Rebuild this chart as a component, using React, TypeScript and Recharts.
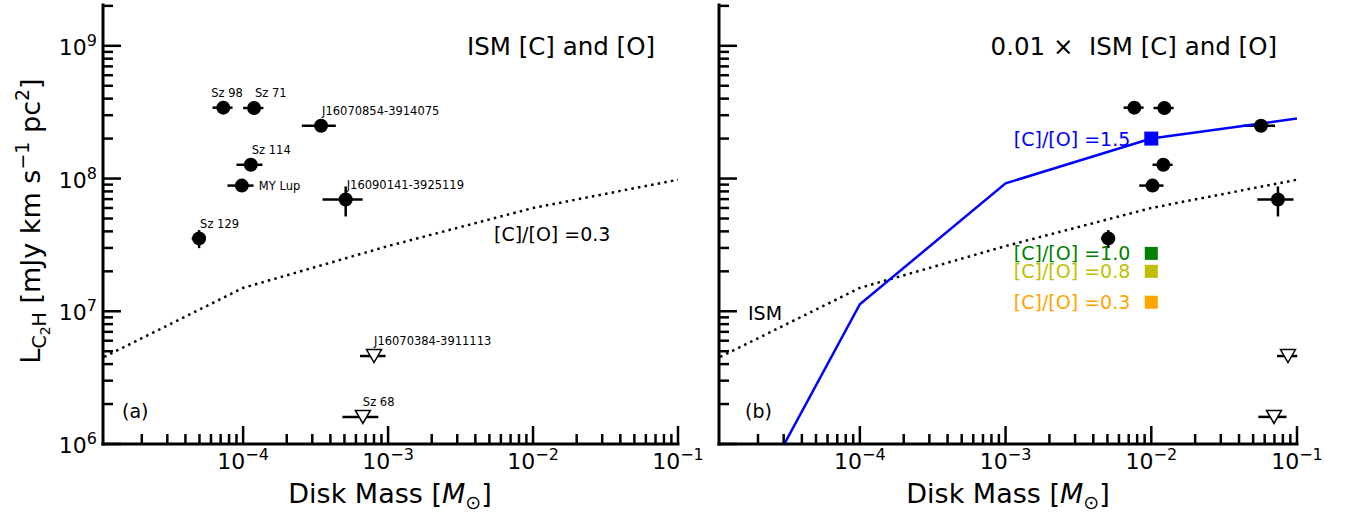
import React from 'react'
import { ComposedChart, Scatter, XAxis, YAxis, ErrorBar } from 'recharts'

const FONT = '"DejaVu Sans", sans-serif'

// detections, panel (a) disk masses
const names = ['Sz 98', 'Sz 71', 'J16070854-3914075', 'Sz 114', 'MY Lup', 'J16090141-3925119', 'Sz 129']
const massA = [7.3e-5, 1.19e-4, 3.45e-4, 1.13e-4, 9.8e-5, 5.1e-4, 4.97e-5]
const massErrA = [1.15e-5, 1.9e-5, 9.1e-5, 2.3e-5, 2.0e-5, 1.57e-4, 5.5e-6]
// detections, panel (b) disk masses
const massB = [7.65e-3, 1.23e-2, 5.66e-2, 1.21e-2, 1.02e-2, 7.4e-2, 5.07e-3]
const massErrB = [1.2e-3, 1.95e-3, 1.41e-2, 1.9e-3, 1.93e-3, 2.06e-2, 5.6e-4]
const lum = [3.42e8, 3.4e8, 2.5e8, 1.27e8, 8.85e7, 6.95e7, 3.54e7]
const lumErr = [0, 0, 0, 0, 0, 1.77e7, 5.5e6]

// upper limits
const ulNames = ['J16070384-3911113', 'Sz 68']
const ulMassA = [8.0e-4, 6.7e-4]
const ulMassErrA = [1.6e-4, 1.86e-4]
const ulMassB = [8.67e-2, 6.95e-2]
const ulMassErrB = [1.37e-2, 1.52e-2]
const ulLum = [4.6e6, 1.6e6]

// models
const modelMass = [1e-5, 1e-4, 1e-3, 1e-2, 1e-1]
const ismLum = [4.3e6, 1.5e7, 3.1e7, 6.0e7, 9.8e7]
const co15Lum = [1.05e5, 1.13e7, 9.2e7, 2.0e8, 2.83e8]

// C/O markers at 1e-2
const ratioLabels = ['[C]/[O] =1.5', '[C]/[O] =1.0', '[C]/[O] =0.8', '[C]/[O] =0.3']
const ratioLum = [2.0e8, 2.73e7, 2.0e7, 1.17e7]
const ratioColors = ['#0000ff', '#008000', '#bfbf00', '#ffa500']

const xDomain: [number, number] = [1.08e-5, 0.1]
const yDomain: [number, number] = [1e6, 2.03e9]
const mant = [1, 2, 3, 4, 5, 6, 7, 8, 9]
const xTicks = [1e-5, 1e-4, 1e-3, 1e-2, 1e-1].flatMap(d => mant.map(m => m * d)).filter(v => v >= xDomain[0] && v <= xDomain[1] * 1.0001)
const yTicks = [1e6, 1e7, 1e8, 1e9].flatMap(d => mant.map(m => m * d)).filter(v => v >= yDomain[0] * 0.9999 && v <= yDomain[1])

const MAJOR = 18
const MINOR = 10

const isMajor = (v: number) => Math.abs(Math.log10(v) - Math.round(Math.log10(v))) < 1e-6
const expText = (v: number) => {
  const e = Math.round(Math.log10(v))
  return e < 0 ? '\u2212' + -e : String(e)
}

function makeTick(side: string, labels: boolean) {
  return (props: any) => {
    const { x, y, payload } = props
    const v = payload.value
    const major = isMajor(v)
    const len = major ? MAJOR : MINOR
    let x2 = x, y2 = y
    if (side === 'bottom') y2 = y - len
    if (side === 'top') y2 = y + len
    if (side === 'left') x2 = x + len
    if (side === 'right') x2 = x - len
    return (
      <g>
        <line x1={x} y1={y} x2={x2} y2={y2} stroke="#000" strokeWidth={2.5} />
        {labels && major && side === 'bottom' && (
          <text x={x} y={y + 25} textAnchor="middle" fontSize={22} fontFamily={FONT} fill="#000">
            10<tspan dy={-9} fontSize={16}>{expText(v)}</tspan>
          </text>
        )}
        {labels && major && side === 'left' && (
          <text x={x - 6} y={y + 9} textAnchor="end" fontSize={22} fontFamily={FONT} fill="#000">
            10<tspan dy={-9} fontSize={16}>{expText(v)}</tspan>
          </text>
        )}
      </g>
    )
  }
}

const axisLine = { stroke: '#000', strokeWidth: 3, strokeLinecap: 'square' as const }

function axes(yLabels: boolean, leftWidth: number) {
  return [
    <XAxis key="xb" xAxisId="b" type="number" dataKey="x" scale="log" domain={xDomain} allowDataOverflow
      ticks={xTicks} interval={0} height={71} tickSize={0} tickMargin={0} tickLine={false}
      axisLine={axisLine} tick={makeTick('bottom', true)} />,
    <XAxis key="xt" xAxisId="t" orientation="top" type="number" dataKey="x" scale="log" domain={xDomain} allowDataOverflow
      ticks={xTicks} interval={0} height={0} tickSize={0} tickMargin={0} tickLine={false}
      axisLine={axisLine} tick={makeTick('top', false)} />,
    <YAxis key="yl" yAxisId="l" type="number" dataKey="y" scale="log" domain={yDomain} allowDataOverflow
      ticks={yTicks} interval={0} width={leftWidth} tickSize={0} tickMargin={0} tickLine={false}
      axisLine={axisLine} tick={makeTick('left', yLabels)} />,
    <YAxis key="yr" yAxisId="r" orientation="right" type="number" dataKey="y" scale="log" domain={yDomain} allowDataOverflow
      ticks={yTicks} interval={0} width={0} tickSize={0} tickMargin={0} tickLine={false}
      axisLine={axisLine} tick={makeTick('right', false)} />,
  ]
}

const Dot = (withLabel: boolean) => (props: any) => {
  const { cx, cy, payload } = props
  let dx = 1
  let dy = -10.5
  if (payload.name === 'Sz 98') dx = -12
  if (payload.name === 'MY Lup') { dx = 17; dy = 4 }
  return (
    <g>
      <circle cx={cx} cy={cy} r={7} fill="#000" />
      {withLabel && (
        <text x={cx + dx} y={cy + dy} fontSize={11.5} fontFamily={FONT} fill="#000">{payload.name}</text>
      )}
    </g>
  )
}

const Tri = (withLabel: boolean) => (props: any) => {
  const { cx, cy, payload } = props
  return (
    <g>
      <polygon points={`${cx - 7.5},${cy - 6.5} ${cx + 7.5},${cy - 6.5} ${cx},${cy + 6.5}`} fill="#fff" stroke="#000" strokeWidth={1.5} />
      {withLabel && (
        <text x={cx} y={cy - 11} fontSize={11.5} fontFamily={FONT} fill="#000">{payload.name}</text>
      )}
    </g>
  )
}

const Square = (props: any) => {
  const { cx, cy, payload } = props
  const s = payload.big ? 14 : 13
  return (
    <g>
      <rect x={cx - s / 2} y={cy - s / 2} width={s} height={s} fill={payload.color} />
      <text x={cx - 21} y={cy + 7} textAnchor="end" fontSize={19} fontFamily={FONT} fill={payload.color}>{payload.label}</text>
    </g>
  )
}

const NoShape = () => <g />

const detA = names.map((name, i) => ({ name, x: massA[i], y: lum[i], xErr: massErrA[i], yErr: lumErr[i] }))
const detB = names.map((name, i) => ({ name, x: massB[i], y: lum[i], xErr: massErrB[i], yErr: lumErr[i] }))
const ulA = ulNames.map((name, i) => ({ name, x: ulMassA[i], y: ulLum[i], xErr: ulMassErrA[i] }))
const ulB = ulNames.map((name, i) => ({ name, x: ulMassB[i], y: ulLum[i], xErr: ulMassErrB[i] }))
const ism = modelMass.map((x, i) => ({ x, y: ismLum[i] }))
const co15 = modelMass.map((x, i) => ({ x, y: co15Lum[i] }))
const ratios = ratioLabels.map((label, i) => ({ x: 1e-2, y: ratioLum[i], label, color: ratioColors[i], big: i === 0 }))

const ebProps = { stroke: '#000', strokeWidth: 2.5, width: 0 }
const dotted = { stroke: '#000', strokeWidth: 2.5, strokeDasharray: '2.5 4.2' }

const massLabel = (
  <>
    Disk Mass [<tspan fontStyle="italic">M</tspan><tspan dy={6} fontSize={19}>{'\u2299'}</tspan><tspan dy={-6}>]</tspan>
  </>
)

export default function App() {
  return (
    <div style={{ position: 'absolute', left: 0, top: 0, width: 1347, height: 515, background: '#fff', fontFamily: FONT }}>
      <div style={{ position: 'absolute', left: 0, top: 0 }}>
        <ComposedChart width={715} height={515} margin={{ top: 5, right: 37, bottom: 0, left: 0 }}>
          {axes(true, 103)}
          <Scatter xAxisId="b" yAxisId="l" data={ism} line={dotted} lineType="joint" shape={NoShape} isAnimationActive={false} />
          <Scatter xAxisId="b" yAxisId="l" data={detA} shape={Dot(true)} isAnimationActive={false}>
            <ErrorBar dataKey="xErr" direction="x" {...ebProps} />
            <ErrorBar dataKey="yErr" direction="y" {...ebProps} />
          </Scatter>
          <Scatter xAxisId="b" yAxisId="l" data={ulA} shape={Tri(true)} isAnimationActive={false}>
            <ErrorBar dataKey="xErr" direction="x" {...ebProps} />
          </Scatter>
        </ComposedChart>
      </div>
      <div style={{ position: 'absolute', left: 700, top: 0 }}>
        <ComposedChart width={647} height={515} margin={{ top: 5, right: 50, bottom: 0, left: 0 }}>
          {axes(false, 19)}
          <Scatter xAxisId="b" yAxisId="l" data={ism} line={dotted} lineType="joint" shape={NoShape} isAnimationActive={false} />
          <Scatter xAxisId="b" yAxisId="l" data={co15} line={{ stroke: '#0000ff', strokeWidth: 2.5 }} lineType="joint" shape={NoShape} isAnimationActive={false} />
          <Scatter xAxisId="b" yAxisId="l" data={detB} shape={Dot(false)} isAnimationActive={false}>
            <ErrorBar dataKey="xErr" direction="x" {...ebProps} />
            <ErrorBar dataKey="yErr" direction="y" {...ebProps} />
          </Scatter>
          <Scatter xAxisId="b" yAxisId="l" data={ulB} shape={Tri(false)} isAnimationActive={false}>
            <ErrorBar dataKey="xErr" direction="x" {...ebProps} />
          </Scatter>
          <Scatter xAxisId="b" yAxisId="l" data={ratios} shape={Square} isAnimationActive={false} />
        </ComposedChart>
      </div>
      <svg width={1347} height={515} style={{ position: 'absolute', left: 0, top: 0, pointerEvents: 'none' }} fontFamily={FONT}>
        <text transform="translate(40,221) rotate(-90)" textAnchor="middle" fontSize={27} fill="#000">
          L<tspan dy={6} fontSize={19}>C</tspan><tspan dy={4} fontSize={14}>2</tspan><tspan dy={-4} fontSize={19}>H</tspan>
          <tspan dy={-6} fontSize={27}> [mJy km s</tspan><tspan dy={-11} fontSize={19}>{'\u22121'}</tspan>
          <tspan dy={11} fontSize={27}> pc</tspan><tspan dy={-11} fontSize={19}>2</tspan><tspan dy={11} fontSize={27}>]</tspan>
        </text>
        <text x={390} y={503} textAnchor="middle" fontSize={27} fill="#000">{massLabel}</text>
        <text x={1008} y={503} textAnchor="middle" fontSize={27} fill="#000">{massLabel}</text>
        <text x={655} y={55} textAnchor="end" fontSize={24.5} fill="#000">ISM [C] and [O]</text>
        <text x={1277} y={55} textAnchor="end" fontSize={24.5} fill="#000">{'0.01 \u00d7\u00a0 ISM [C] and [O]'}</text>
        <text x={494} y={241} fontSize={19} fill="#000">[C]/[O] =0.3</text>
        <text x={748} y={320} fontSize={19} fill="#000">ISM</text>
        <text x={122} y={418} fontSize={19} fill="#000">(a)</text>
        <text x={745} y={418} fontSize={19} fill="#000">(b)</text>
      </svg>
    </div>
  )
}
